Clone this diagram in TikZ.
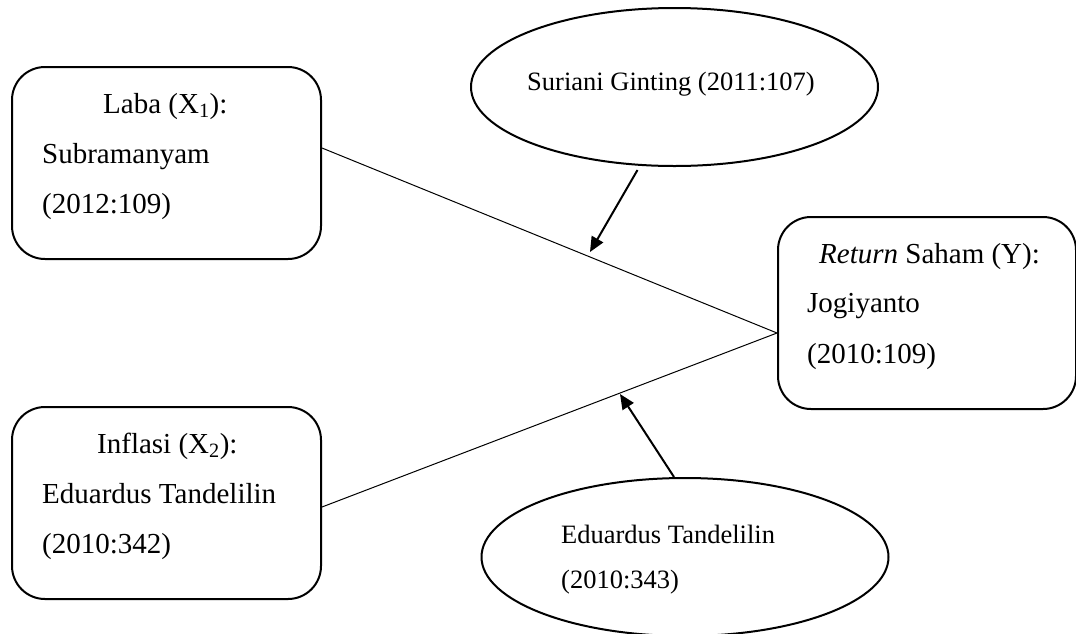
\documentclass[tikz,border=0pt]{standalone}
\usepackage{fontspec}
\setmainfont{Liberation Serif}
\usetikzlibrary{shapes.geometric,arrows.meta}
\tikzset{
  boxnode/.style={draw, line width=2pt, rounded corners=33pt, minimum width=309pt, minimum height=192pt, inner sep=0pt, anchor=north west},
  ellnode/.style={draw, ellipse, line width=2pt, minimum width=407pt, minimum height=158pt, inner sep=0pt},
  bigtxt/.style={inner sep=0pt, anchor=base west, font=\fontsize{29}{35}\selectfont},
  smalltxt/.style={inner sep=0pt, anchor=base west, font=\fontsize{26.5}{32}\selectfont},
  link/.style={line width=1pt},
  arr/.style={line width=2pt, -{Triangle[length=15pt,width=13pt]}}
}
\begin{document}
\begin{tikzpicture}[x=1pt,y=-1pt]
\useasboundingbox (0,0) rectangle (1076,633);
% boxes
\node[boxnode] (b1) at (11,66) {};
\node[boxnode] (b2) at (11,406) {};
\node[boxnode, minimum width=298pt] (b3) at (777,216) {};
% ellipses
\node[ellnode] (e1) at (674.5,87) {};
\node[ellnode] (e2) at (685,557) {};
% texts
\node[bigtxt] (t1a) at (103,113) {Laba (X\textsubscript{1}):};
\node[bigtxt] (t1b) at (42,163) {Subramanyam};
\node[bigtxt] (t1c) at (42,213) {(2012:109)};
\node[bigtxt] (t2a) at (97,453) {Inflasi (X\textsubscript{2}):};
\node[bigtxt] (t2b) at (42,503) {Eduardus Tandelilin};
\node[bigtxt] (t2c) at (42,553) {(2010:342)};
\node[bigtxt] (t3a) at (819,263) {\textit{Return} Saham (Y):};
\node[bigtxt] (t3b) at (807,312) {Jogiyanto};
\node[bigtxt] (t3c) at (807,363) {(2010:109)};
\node[smalltxt] (te1) at (527,90) {Suriani Ginting (2011:107)};
\node[smalltxt] (te2a) at (561,543) {Eduardus Tandelilin};
\node[smalltxt] (te2b) at (561,588) {(2010:343)};
% connectors
\coordinate (o1) at ([yshift=-82pt]b1.north east);
\coordinate (o2) at ([yshift=-101pt]b2.north east);
\coordinate (y3) at ([yshift=-117pt]b3.north west);
\draw[link] (o1) -- (y3);
\draw[link] (o2) -- (y3);
\coordinate (s1) at ([xshift=-37pt,yshift=-3pt]e1.south);
\coordinate (m1) at (590,252);
\draw[arr] (s1) -- (m1);
\coordinate (s2) at ([xshift=-11pt]e2.north);
\coordinate (m2) at (620,394);
\draw[arr] (s2) -- (m2);
\end{tikzpicture}
\end{document}
